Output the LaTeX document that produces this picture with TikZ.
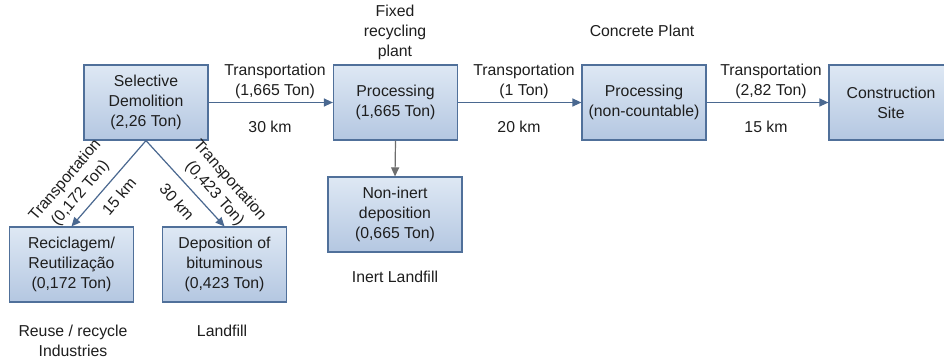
\documentclass[tikz,border=0pt]{standalone}
\usepackage{fontspec}
\setmainfont{Liberation Sans}
\usetikzlibrary{arrows.meta}
\definecolor{boxtop}{HTML}{DEE8F4}
\definecolor{boxbot}{HTML}{B4C7E1}
\definecolor{boxdraw}{HTML}{50709A}
\definecolor{arr}{HTML}{4A6890}
\definecolor{arrgray}{HTML}{6E6E6E}
\definecolor{txt}{HTML}{1E1E1E}
\begin{document}
\begin{tikzpicture}[x=1pt,y=-1pt,
  box/.style={draw=boxdraw, line width=1.2pt, top color=boxtop, bottom color=boxbot,
    minimum width=124pt, minimum height=75pt, align=center, inner sep=0pt,
    text=txt, font=\fontsize{15.8}{20}\selectfont},
  lbl/.style={align=center, inner sep=0pt, text=txt, font=\fontsize{15.8}{20}\selectfont},
  conn/.style={draw=arr, line width=1.2pt, -{Triangle[length=9pt,width=8pt]}},
]
\useasboundingbox[fill=white] (0,0) rectangle (944,362);

\node[box] (demo) at (146,102.5) {Selective\\Demolition\\(2,26 Ton)};
\node[box] (proc1) at (395.5,102.5) {Processing\\(1,665 Ton)};
\node[box] (proc2) at (644,102.5) {Processing\\(non-countable)};
\node[box] (site) at (891,102.5) {Construction\\Site};
\node[box, minimum width=134pt] (noninert) at (395,214.5) {Non-inert\\deposition\\(0,665 Ton)};
\node[box] (recic) at (71.5,264.5) {Reciclagem/\\Reutilização\\(0,172 Ton)};
\node[box] (bitum) at (224.5,264.5) {Deposition of\\bituminous\\(0,423 Ton)};

\draw[conn] (demo) -- (proc1);
\draw[conn] (proc1) -- (proc2);
\draw[conn] (proc2) -- (site);
\draw[conn] (demo.south) -- (recic.north);
\draw[conn] (demo.south) -- (bitum.north);
\draw[conn, draw=arrgray] (proc1.south) -- (noninert.north);

\node[lbl] (t1) at (275,81.5) {Transportation\\(1,665 Ton)};
\node[lbl] (k1) at (270,127) {30 km};
\node[lbl] (fixed) at (395,32) {Fixed\\recycling\\plant};
\node[lbl] (t2) at (524,81.5) {Transportation\\(1 Ton)};
\node[lbl] (k2) at (519,127) {20 km};
\node[lbl] (concrete) at (642,31) {Concrete Plant};
\node[lbl] (t3) at (771,81.5) {Transportation\\(2,82 Ton)};
\node[lbl] (k3) at (766,127) {15 km};
\node[lbl] (inert) at (395,277) {Inert Landfill};
\node[lbl] (reuse) at (73,340.5) {Reuse / recycle\\Industries};
\node[lbl] (landfill) at (222,331) {Landfill};

\node[lbl, rotate=49.6] (t4) at (73,187) {Transportation\\(0,172 Ton)};
\node[lbl, rotate=49.6] (k4) at (119,196) {15 km};
\node[lbl, rotate=-48.5] (k5) at (177,202) {30 km};
\node[lbl, rotate=-48.5] (t5) at (222,187) {Transportation\\(0,423 Ton)};
\end{tikzpicture}
\end{document}
